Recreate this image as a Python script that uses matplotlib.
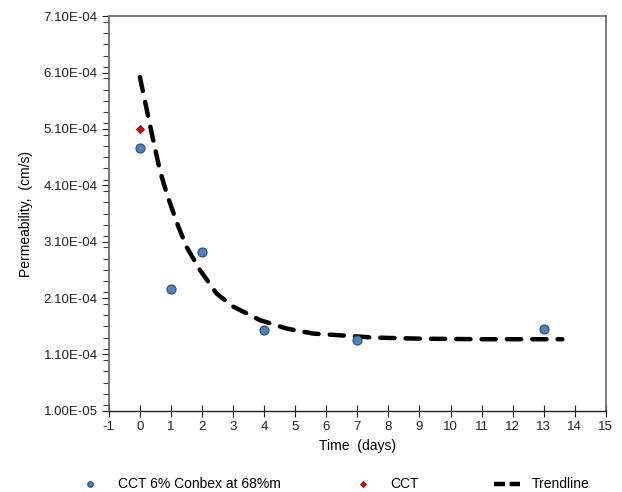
import matplotlib
matplotlib.use("Agg")
import matplotlib.pyplot as plt
from matplotlib.ticker import MultipleLocator, FuncFormatter
from matplotlib.lines import Line2D

plt.rcParams['font.family'] = ['Liberation Sans', 'DejaVu Sans']
plt.rcParams['axes.unicode_minus'] = False

# Measured permeability (CCT 6% Conbex at 68%m)
days = [0, 1, 2, 4, 7, 13]
permeability = [4.77e-4, 2.26e-4, 2.91e-4, 1.54e-4, 1.35e-4, 1.56e-4]

# CCT reference value
cct_days = [0]
cct_perm = [5.10e-4]

# Trendline
trend_days = [0, 0.27, 0.43, 0.64, 0.86, 1.18, 1.5, 1.93, 2.47, 3.0, 3.86,
              4.72, 5.58, 6.44, 7.5, 9.0, 11.0, 13.6]
trend_perm = [6.02e-4, 5.31e-4, 4.90e-4, 4.37e-4, 3.96e-4, 3.45e-4, 3.01e-4,
              2.60e-4, 2.18e-4, 1.95e-4, 1.71e-4, 1.56e-4, 1.47e-4, 1.44e-4,
              1.40e-4, 1.38e-4, 1.37e-4, 1.37e-4]

x_ticks = list(range(-1, 16))
y_ticks = [1.0e-5 + i * 1.0e-4 for i in range(8)]

W, H = 622, 492
fig = plt.figure(figsize=(W / 100, H / 100), dpi=100)
ax = fig.add_axes([0.175, 0.165, 0.799, 0.802])

trend_style = dict(color='black', lw=3.2, ls=(0, (3.2, 2.5)),
                   solid_capstyle='round', dash_capstyle='round')
circle_style = dict(color='#4f81bd', mec='#2b4a70', mew=0.8)
diamond_style = dict(color='#e00000', mec='#800000', mew=0.6)

ax.plot(trend_days, trend_perm, zorder=2, **trend_style)
ax.plot(days, permeability, 'o', ms=6.5, zorder=3, **circle_style)
ax.plot(cct_days, cct_perm, 'D', ms=4.5, zorder=4, **diamond_style)

ax.set_xlim(-1, 15)
ax.set_ylim(1.0e-5, 7.1e-4)
ax.set_xticks(x_ticks)
ax.set_yticks(y_ticks)
ax.yaxis.set_minor_locator(MultipleLocator(2.0e-5))
ax.yaxis.set_major_formatter(FuncFormatter(lambda v, p: f"{v:.2E}"))

ax.tick_params(axis='x', direction='inout', length=8, width=0.8,
               labelsize=9.5, colors='#222222', pad=3)
ax.tick_params(axis='y', which='major', direction='out', length=5,
               width=0.8, labelsize=9.5, colors='#222222', pad=3)
ax.tick_params(axis='y', which='minor', direction='out', length=4,
               width=0.8, colors='#444444')

for side in ['top', 'right', 'left']:
    ax.spines[side].set_color('#666666')
    ax.spines[side].set_linewidth(1.2)
ax.spines['bottom'].set_color('#222222')
ax.spines['bottom'].set_linewidth(1.0)

ax.set_xlabel('Time  (days)', fontsize=10, labelpad=5)
ax.set_ylabel('Permeability,  (cm/s)', fontsize=10, labelpad=8)

# Legend row below the axes
ly = 1 - 484 / H
fig.add_artist(Line2D([90 / W], [ly], ls='none', marker='o', ms=4,
                      transform=fig.transFigure, **circle_style))
fig.text(118 / W, ly, 'CCT 6% Conbex at 68%m', fontsize=10, va='center')
fig.add_artist(Line2D([363 / W], [ly], ls='none', marker='D', ms=3,
                      transform=fig.transFigure, **diamond_style))
fig.text(390 / W, ly, 'CCT', fontsize=10, va='center')
fig.add_artist(Line2D([494 / W, 520 / W], [ly, ly], transform=fig.transFigure,
                      color='black', lw=3.2, ls=(0, (2.5, 1.0)),
                      dash_capstyle='butt', solid_capstyle='butt'))
fig.text(532 / W, ly, 'Trendline', fontsize=10, va='center')

fig.savefig('out.png', dpi=100)
